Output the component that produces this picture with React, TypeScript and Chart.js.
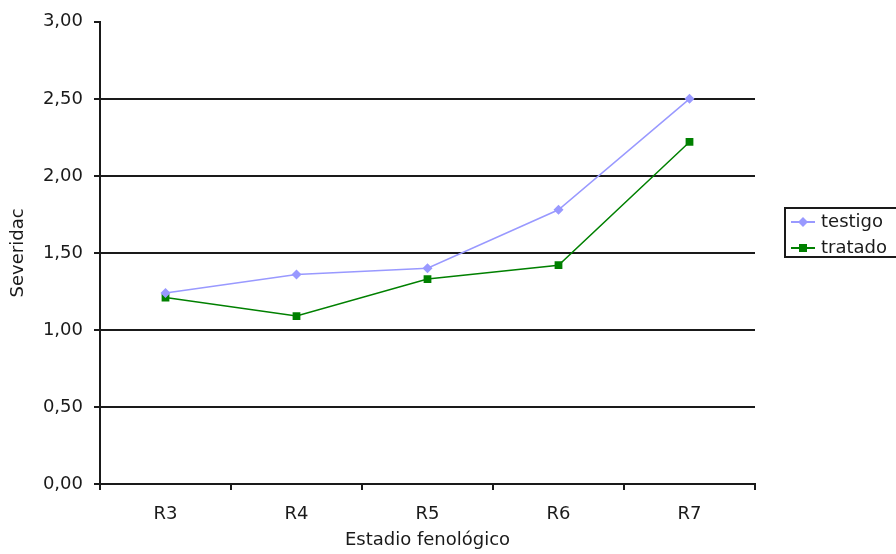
import { useRef, useEffect } from "react";
import { Chart, registerables, type Plugin } from "chart.js";

Chart.register(...registerables);

const stages = ["R3", "R4", "R5", "R6", "R7"];
const testigo = [1.24, 1.36, 1.4, 1.78, 2.5];
const tratado = [1.21, 1.09, 1.33, 1.42, 2.22];
const yTicks = [0, 0.5, 1, 1.5, 2, 2.5, 3];

const FONT = "'DejaVu Sans', Verdana, sans-serif";
const INK = "#1a1a1a";

// boxed legend on the right, Excel style
const boxLegend: Plugin<"line"> = {
  id: "boxLegend",
  afterDraw(chart) {
    const { ctx } = chart;
    const left = 785;
    const top = 208;
    const rowH = 26;
    ctx.save();
    ctx.strokeStyle = INK;
    ctx.lineWidth = 2;
    ctx.strokeRect(left, top, 130, 49);
    ctx.font = `18px ${FONT}`;
    ctx.textBaseline = "middle";
    chart.data.datasets.forEach((ds, i) => {
      const y = top + 14 + i * rowH;
      const color = ds.borderColor as string;
      ctx.strokeStyle = color;
      ctx.lineWidth = 2;
      ctx.beginPath();
      ctx.moveTo(left + 6, y);
      ctx.lineTo(left + 30, y);
      ctx.stroke();
      ctx.fillStyle = color;
      ctx.beginPath();
      if (ds.pointStyle === "rectRot") {
        ctx.moveTo(left + 18, y - 5);
        ctx.lineTo(left + 23, y);
        ctx.lineTo(left + 18, y + 5);
        ctx.lineTo(left + 13, y);
        ctx.closePath();
      } else {
        ctx.rect(left + 14, y - 4, 8, 8);
      }
      ctx.fill();
      ctx.fillStyle = INK;
      ctx.fillText(ds.label ?? "", left + 36, y);
    });
    ctx.restore();
  },
};

export default function App() {
  const canvasRef = useRef<HTMLCanvasElement>(null);
  const chartRef = useRef<Chart<"line"> | null>(null);

  useEffect(() => {
    document.body.style.margin = "0";
    if (!canvasRef.current) return;
    chartRef.current?.destroy();

    chartRef.current = new Chart(canvasRef.current, {
      type: "line",
      data: {
        labels: stages,
        datasets: [
          {
            label: "testigo",
            data: testigo,
            borderColor: "#9999ff",
            backgroundColor: "#9999ff",
            borderWidth: 1.5,
            pointStyle: "rectRot",
            pointRadius: 5,
            pointBorderWidth: 0,
            tension: 0,
          },
          {
            label: "tratado",
            data: tratado,
            borderColor: "#008000",
            backgroundColor: "#008000",
            borderWidth: 1.5,
            pointStyle: "rect",
            pointRadius: 5.5,
            pointBorderWidth: 0,
            tension: 0,
          },
        ],
      },
      options: {
        responsive: true,
        maintainAspectRatio: false,
        animation: false,
        layout: { padding: { top: 18, right: 141, bottom: 0, left: 0 } },
        plugins: {
          legend: { display: false },
          tooltip: { enabled: false },
        },
        scales: {
          x: {
            offset: true,
            afterFit: (scale) => {
              scale.height = 70;
            },
            grid: {
              offset: true,
              drawOnChartArea: false,
              tickLength: 6,
              color: INK,
              lineWidth: 2,
            },
            border: { color: INK, width: 2 },
            ticks: {
              color: INK,
              padding: 14,
              font: { family: FONT, size: 18 },
            },
            title: {
              display: true,
              text: "Estadio fenológico",
              color: INK,
              font: { family: FONT, size: 18 },
              padding: { top: 0, bottom: 3 },
            },
          },
          y: {
            min: 0,
            max: 3,
            afterFit: (scale) => {
              scale.width = 100;
            },
            afterBuildTicks: (scale) => {
              scale.ticks = yTicks.map((value) => ({ value }));
            },
            grid: {
              color: (c) => (c.tick && c.tick.value === 3 ? "rgba(0,0,0,0)" : INK),
              tickColor: INK,
              tickLength: 6,
              lineWidth: 2,
            },
            border: { color: INK, width: 2 },
            ticks: {
              color: INK,
              padding: 11,
              font: { family: FONT, size: 18 },
              callback: (v) => Number(v).toFixed(2).replace(".", ","),
            },
            title: {
              display: true,
              text: "Severidac",
              color: INK,
              font: { family: FONT, size: 18 },
              padding: { top: 8, bottom: 0 },
            },
          },
        },
      },
      plugins: [boxLegend],
    });

    return () => {
      chartRef.current?.destroy();
      chartRef.current = null;
    };
  }, []);

  return (
    <div style={{ position: "relative", width: 896, height: 554 }}>
      <canvas ref={canvasRef} aria-label="Severidad por estadio fenológico" />
    </div>
  );
}
